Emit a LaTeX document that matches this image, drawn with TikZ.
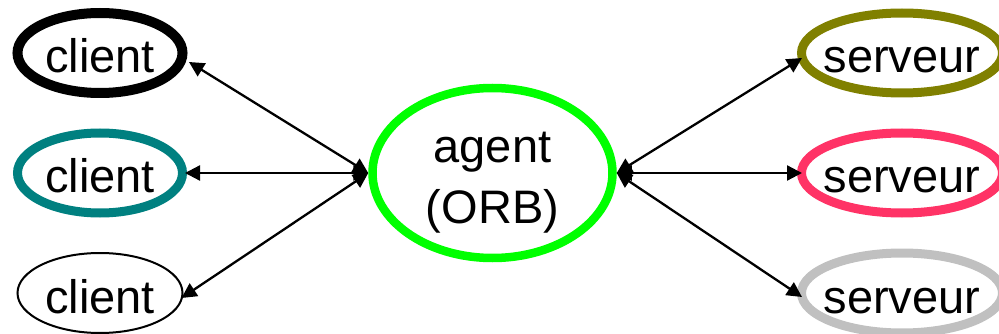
\documentclass[tikz,border=0pt]{standalone}
\usepackage{fontspec}
\setmainfont{Liberation Sans}
\usetikzlibrary{shapes.geometric,arrows.meta}
\definecolor{tealc}{RGB}{0,128,128}
\definecolor{greenc}{RGB}{0,255,0}
\definecolor{olivec}{RGB}{128,128,0}
\definecolor{pinkc}{RGB}{255,51,102}
\definecolor{silverc}{RGB}{192,192,192}
\begin{document}
\begin{tikzpicture}[x=1pt,y=-1pt,
  oval/.style={ellipse,draw,inner sep=0pt,font=\fontsize{47}{56}\selectfont},
  clientbox/.style={oval,minimum width=165pt,minimum height=80pt,
    text height=40pt,text depth=0pt},
  serverbox/.style={oval,minimum width=201pt,minimum height=80pt,
    inner xsep=-10pt,text height=40pt,text depth=0pt},
  link/.style={line width=2.3pt,{Triangle[length=15pt,width=15pt]}-{Triangle[length=15pt,width=15pt]}}]
\useasboundingbox (0,0) rectangle (999,334);
% clients
\node[clientbox,line width=10pt] (c1) at (100,53) {client};
\node[clientbox,line width=9pt,draw=tealc] (c2) at (100,173) {client};
\node[clientbox,line width=2pt] (c3) at (100,293) {client};
% broker
\node[oval,line width=8.5pt,draw=greenc,minimum width=240pt,minimum height=170pt,
      align=center,font=\fontsize{47}{61}\selectfont,
      text height=100pt,text depth=0pt] (agent) at (492.5,173) {agent\\(ORB)};
% servers
\node[serverbox,line width=9pt,draw=olivec] (s1) at (902,53) {serveur};
\node[serverbox,line width=9pt,draw=pinkc] (s2) at (902,173) {serveur};
\node[serverbox,line width=9pt,draw=silverc] (s3) at (902,293) {serveur};
% connectors
\draw[link] (agent.west) -- ([shift={(1.5,9)}]c1.east);
\draw[link] (agent.west) -- ([shift={(-2,0)}]c2.east);
\draw[link] (agent.west) -- ([shift={(-2,5)}]c3.east);
\draw[link] (agent.east) -- ([shift={(5,5)}]s1.west);
\draw[link] (agent.east) -- ([shift={(5,0)}]s2.west);
\draw[link] (agent.east) -- ([shift={(5,4)}]s3.west);
\end{tikzpicture}
\end{document}
